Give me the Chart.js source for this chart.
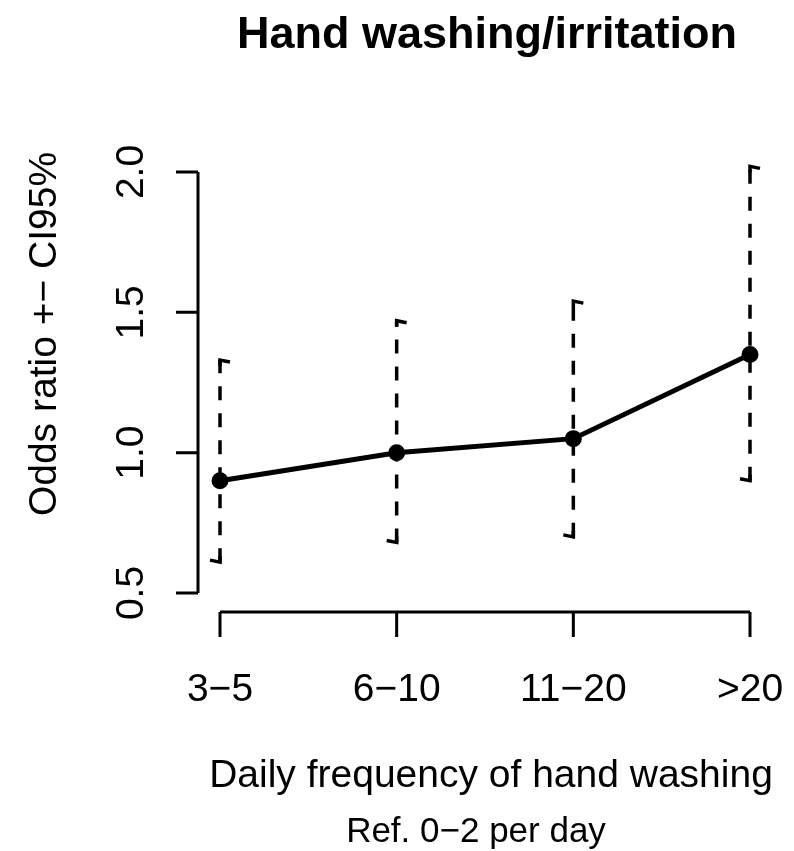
<!DOCTYPE html>
<html>
<head>
<meta charset="utf-8">
<script src="https://cdn.jsdelivr.net/npm/chart.js@4.4.1/dist/chart.umd.min.js"></script>
<style>
  html, body { margin: 0; padding: 0; background: #fff; }
  #wrap { width: 794px; height: 851px; }
</style>
</head>
<body>
<div id="wrap"><canvas id="orChart" width="794" height="851"></canvas></div>
<script>
const categories = ['3\u22125', '6\u221210', '11\u221220', '>20'];
const oddsRatio = [0.90, 1.00, 1.05, 1.35];
const ciLower = [0.61, 0.68, 0.70, 0.90];
const ciUpper = [1.33, 1.47, 1.54, 2.02];
const yTicks = [0.5, 1.0, 1.5, 2.0];

const font = '"Liberation Sans", Arial, sans-serif';

// R-style detached axes, error bars and titles drawn from the chart scales
const rStyle = {
    id: 'rStyle',
    afterDatasetsDraw(chart) {
        const ctx = chart.ctx;
        const x = chart.scales.x;
        const y = chart.scales.y;
        ctx.save();
        ctx.strokeStyle = '#000';
        ctx.fillStyle = '#000';

        // CI whiskers
        ctx.lineWidth = 3.5;
        categories.forEach((c, i) => {
            const px = x.getPixelForValue(i);
            const top = y.getPixelForValue(ciUpper[i]);
            const bot = y.getPixelForValue(ciLower[i]);
            ctx.setLineDash([14, 13]);
            ctx.beginPath();
            ctx.moveTo(px, bot);
            ctx.lineTo(px, top);
            ctx.stroke();
            ctx.setLineDash([]);
            ctx.beginPath();
            ctx.moveTo(px, top + 6);
            ctx.lineTo(px, top);
            ctx.lineTo(px + 10, top + 2);
            ctx.moveTo(px, bot - 6);
            ctx.lineTo(px, bot);
            ctx.lineTo(px - 10, bot - 2);
            ctx.stroke();
        });

        // y axis
        const axX = x.getPixelForValue(0) - 22;
        ctx.lineWidth = 3;
        ctx.beginPath();
        ctx.moveTo(axX, y.getPixelForValue(yTicks[0]));
        ctx.lineTo(axX, y.getPixelForValue(yTicks[yTicks.length - 1]));
        yTicks.forEach(t => {
            const py = y.getPixelForValue(t);
            ctx.moveTo(axX, py);
            ctx.lineTo(axX - 22, py);
        });
        ctx.stroke();
        ctx.font = '39px ' + font;
        ctx.textAlign = 'center';
        ctx.textBaseline = 'middle';
        yTicks.forEach(t => {
            const py = y.getPixelForValue(t);
            ctx.save();
            ctx.translate(axX - 66, py);
            ctx.rotate(-Math.PI / 2);
            ctx.fillText(t.toFixed(1), 0, 0);
            ctx.restore();
        });
        ctx.save();
        ctx.translate(45, 334);
        ctx.rotate(-Math.PI / 2);
        ctx.fillText('Odds ratio +\u2212 CI95%', 0, 0);
        ctx.restore();

        // x axis
        const axY = y.getPixelForValue(0.5) + 19;
        ctx.beginPath();
        ctx.moveTo(x.getPixelForValue(0), axY);
        ctx.lineTo(x.getPixelForValue(categories.length - 1), axY);
        categories.forEach((c, i) => {
            const px = x.getPixelForValue(i);
            ctx.moveTo(px, axY);
            ctx.lineTo(px, axY + 25);
        });
        ctx.stroke();
        categories.forEach((c, i) => {
            ctx.fillText(c, x.getPixelForValue(i), axY + 78);
        });
        ctx.fillText('Daily frequency of hand washing', 491, 776);
        ctx.font = '35px ' + font;
        ctx.fillText('Ref. 0\u22122 per day', 476, 832);

        ctx.font = 'bold 45px ' + font;
        ctx.fillText('Hand washing/irritation', 487, 36);
        ctx.restore();
    }
};

new Chart(document.getElementById('orChart'), {
    type: 'line',
    data: {
        labels: categories,
        datasets: [{
            label: 'Odds ratio',
            data: oddsRatio,
            borderColor: '#000',
            backgroundColor: '#000',
            borderWidth: 5,
            pointRadius: 6,
            pointBackgroundColor: '#000',
            tension: 0
        }]
    },
    options: {
        responsive: false,
        animation: false,
        clip: false,
        layout: { padding: { left: 220, right: 44, top: 172, bottom: 258 } },
        plugins: { legend: { display: false }, tooltip: { enabled: false } },
        scales: {
            x: { type: 'category', offset: false, display: false },
            y: { min: 0.5, max: 2.0, display: false }
        }
    },
    plugins: [rStyle]
});
</script>
</body>
</html>
